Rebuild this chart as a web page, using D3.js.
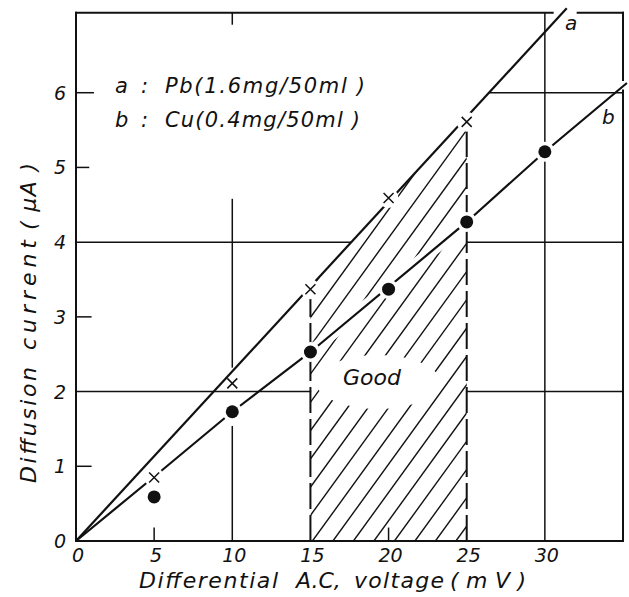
<!DOCTYPE html>
<html>
<head>
<meta charset="utf-8">
<script src="https://cdn.jsdelivr.net/npm/d3@7"></script>
<style>
    body { margin: 0; background: #fff; }
    svg text { font-family: "DejaVu Sans", sans-serif; font-style: italic; fill: #111; }
</style>
</head>
<body>
<svg id="vis_svg"></svg>
<script>
// Values
let voltages = [5, 10, 15, 20, 25, 30];                 // mV
let pbCurrent = [0.85, 2.11, 3.37, 4.59, 5.61];         // curve a, crosses (5..25 mV)
let cuCurrent = [0.59, 1.73, 2.53, 3.37, 4.27, 5.21];   // curve b, dots
let lineAVolts = [0, 31.4];
let lineACurrent = [0, 7.13];
let lineBVolts = [0, 5, 10, 15, 25, 30, 35.25];
let lineBCurrent = [0, 0.86, 1.73, 2.53, 4.27, 5.21, 6.13];
let goodRange = [15, 25];
let xTicks = [0, 5, 10, 15, 20, 25, 30];
let yTicks = [0, 1, 2, 3, 4, 5, 6];
let legendKeys = ['a', 'b'];
let legendTexts = ['Pb(1.6mg/50ml )', 'Cu(0.4mg/50ml )'];
let xTitleWords = ['Differential', 'A.C,', 'voltage', '( m V )'];
let yTitleWords = ['Diffusion', 'current', '( μA )'];

let config = {
    'svg': {},
    'plot': {}
};
let scales = {};

/**
 * Set up the svg and scales
 */
function visSetup() {
    config.svg.width = 629;
    config.svg.height = 597;

    config.plot.left = 76;
    config.plot.right = 623;
    config.plot.bottom = 541;
    config.plot.yMax = 7.07;   // top border

    scales.x = d3.scaleLinear().domain([0, 35]).range([config.plot.left, config.plot.right]);
    scales.y = d3.scaleLinear().domain([0, 7]).range([config.plot.bottom, 18]);

    svg = d3.select('#vis_svg')
        .attr('width', config.svg.width)
        .attr('height', config.svg.height);

    svg.append('rect')
        .attr('width', config.svg.width)
        .attr('height', config.svg.height)
        .style('fill', '#fff');
}

/**
 * Draw everything
 */
function visDraw() {
    let x = scales.x, y = scales.y;
    let yMax = config.plot.yMax;
    let slopeA = lineACurrent[1] / lineAVolts[1];
    let aAt = v => slopeA * v;
    let bAt = v => d3.scaleLinear().domain(lineBVolts).range(lineBCurrent)(v);

    // grid pieces, frame and ticks, in data units [x1, y1, x2, y2]
    let grid = [
        [0, 2, 15, 2], [25, 2, 35, 2],
        [0, 4, 4 / slopeA, 4], [25, 4, 35, 4],
        [6 / slopeA, 6, 35, 6],
        [10, 0, 10, 1.53], [10, 2.33, 10, 4.57],
        [30, 0, 30, yMax]
    ];
    let ticks = [
        [0, 1, 0.95, 1], [0, 3, 0.95, 3], [0, 5, 0.8, 5], [0, 6, 1.1, 6],
        [5, 0, 5, 0.17], [20, 0, 20, 0.17], [10, yMax, 10, yMax - 0.15]
    ];
    let frame = [
        [0, 0, 0, yMax], [0, 0, 35, 0],
        [0, yMax, 30.5, yMax], [32.1, yMax, 35, yMax],
        [35, 0, 35, 6.03], [35, 6.17, 35, yMax]
    ];

    let segs = (cls, data, width) => svg.append('g').attr('class', cls)
        .selectAll('line').data(data).enter().append('line')
        .attr('x1', d => x(d[0])).attr('y1', d => y(d[1]))
        .attr('x2', d => x(d[2])).attr('y2', d => y(d[3]))
        .style('stroke', '#111').style('stroke-width', width)
        .style('stroke-linecap', 'square');

    segs('grid', grid, 1.5);
    segs('ticks', ticks, 1.5);
    segs('frame', frame, 2);

    // hatched "good" area under curve a between 15 and 25 mV
    let hatchPoly = [[goodRange[0], 0], [goodRange[0], aAt(goodRange[0])],
                     [goodRange[1], aAt(goodRange[1])], [goodRange[1], 0]];
    let defs = svg.append('defs');
    defs.append('clipPath').attr('id', 'hatchClip')
        .append('polygon')
        .attr('points', hatchPoly.map(p => x(p[0]) + ',' + y(p[1])).join(' '));

    let hatchG = svg.append('g').attr('clip-path', 'url(#hatchClip)');
    let hatchSlope = 1.38, hatchStep = 20.5;
    let starts = d3.range(-25, 12).map(k => x(goodRange[0]) + 2 + k * hatchStep);
    hatchG.selectAll('line.h').data(starts).enter().append('line')
        .attr('x1', d => d).attr('y1', config.plot.bottom)
        .attr('x2', d => d + 600 / hatchSlope).attr('y2', config.plot.bottom - 600)
        .style('stroke', '#111').style('stroke-width', 1.4);

    // blank patch for the label and a gap along curve b
    hatchG.append('ellipse')
        .attr('cx', 378).attr('cy', 382).attr('rx', 62).attr('ry', 27)
        .style('fill', '#fff');
    let lineGen = d3.line().x(d => x(d[0])).y(d => y(d[1]));
    let bPts = lineBVolts.map((v, i) => [v, lineBCurrent[i]]);
    hatchG.append('path').attr('d', lineGen(bPts))
        .style('fill', 'none').style('stroke', '#fff').style('stroke-width', 12);

    // dashed limits
    segs('limits', [[15, 0, 15, aAt(15)], [25, 0, 25, aAt(25)]], 2)
        .style('stroke-dasharray', '26,6')
        .style('stroke-linecap', 'butt');

    // curves a and b
    let aPts = lineAVolts.map((v, i) => [v, lineACurrent[i]]);
    svg.append('path').attr('d', lineGen(aPts))
        .style('fill', 'none').style('stroke', '#111').style('stroke-width', 2.2);
    svg.append('path').attr('d', lineGen(bPts))
        .style('fill', 'none').style('stroke', '#111').style('stroke-width', 2.2);

    // white halos so the lines break around the markers sitting on them
    let pbPts = pbCurrent.map((c, i) => [voltages[i], c]);
    let cuPts = cuCurrent.map((c, i) => [voltages[i], c]);
    let onCurve = d => Math.abs(d[1] - aAt(d[0])) < 0.1 || Math.abs(d[1] - bAt(d[0])) < 0.1;
    svg.append('g').selectAll('circle').data(pbPts.filter(onCurve).concat(cuPts)).enter().append('circle')
        .attr('cx', d => x(d[0])).attr('cy', d => y(d[1])).attr('r', 10)
        .style('fill', '#fff');

    // markers
    let crosses = svg.append('g');
    pbPts.forEach(d => {
        let cx = x(d[0]), cy = y(d[1]), s = 5;
        crosses.append('path')
            .attr('d', `M${cx - s},${cy - s}L${cx + s},${cy + s}M${cx - s},${cy + s}L${cx + s},${cy - s}`)
            .style('stroke', '#111').style('stroke-width', 1.5);
    });
    svg.append('g').selectAll('circle').data(cuPts).enter().append('circle')
        .attr('cx', d => x(d[0])).attr('cy', d => y(d[1])).attr('r', 6.5)
        .style('fill', '#111');

    // tick labels
    svg.append('g').selectAll('text').data(xTicks).enter().append('text')
        .attr('x', d => x(d) + 2).attr('y', 562)
        .attr('text-anchor', 'middle').style('font-size', '19px')
        .text(d => d);
    svg.append('g').selectAll('text').data(yTicks).enter().append('text')
        .attr('x', 66).attr('y', d => y(d) + 7)
        .attr('text-anchor', 'end').style('font-size', '19px')
        .text(d => d);

    // axis titles, word by word as spaced in the figure
    let yStarts = [483, 350, 230], yLens = [116, 110, 67];
    yTitleWords.forEach((w, i) => {
        svg.append('text')
            .attr('transform', translate(36, yStarts[i]) + ' rotate(-90)')
            .attr('textLength', yLens[i]).attr('lengthAdjust', 'spacing')
            .style('font-size', '22px')
            .text(w);
    });
    let xStarts = [139, 296, 354, 450], xLens = [139, 0, 90, 76];
    xTitleWords.forEach((w, i) => {
        let t = svg.append('text')
            .attr('x', xStarts[i]).attr('y', 588)
            .style('font-size', '22px')
            .text(w);
        if (xLens[i]) t.attr('textLength', xLens[i]).attr('lengthAdjust', 'spacing');
    });

    // legend
    legendKeys.forEach((k, i) => {
        let by = 93 + i * 34;
        svg.append('text').attr('x', 115).attr('y', by).style('font-size', '21px').text(k);
        svg.append('text').attr('x', 141).attr('y', by).style('font-size', '21px').text(':');
        svg.append('text').attr('x', 165).attr('y', by)
            .attr('textLength', i === 0 ? 200 : 195).attr('lengthAdjust', 'spacing')
            .style('font-size', '21px').text(legendTexts[i]);
    });

    // curve names and region label
    svg.append('text').attr('x', 565).attr('y', 30).style('font-size', '20px').text('a');
    svg.append('text').attr('x', 602).attr('y', 124).style('font-size', '20px').text('b');
    svg.append('text').attr('x', 372).attr('y', 385)
        .attr('text-anchor', 'middle').style('font-size', '22px').text('Good');
}

// Helper functions
function translate(x, y) {
    return 'translate(' + x + ',' + y + ')';
}

visSetup();
visDraw();
</script>
</body>
</html>
